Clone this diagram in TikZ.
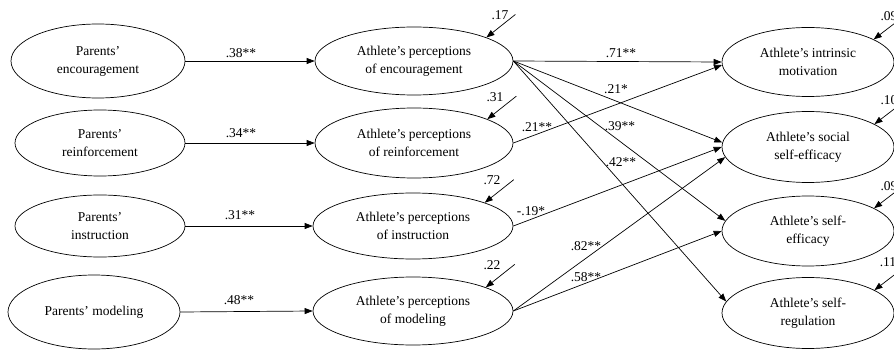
\documentclass[tikz,border=0pt]{standalone}
\usepackage{fontspec}
\setmainfont{Liberation Serif}
\usetikzlibrary{shapes.geometric,arrows.meta,calc}
\begin{document}
\begin{tikzpicture}[x=1pt,y=-1pt,
 ell/.style={draw, ellipse, inner sep=0pt, align=center, line width=0.7pt, font=\fontsize{13.5}{18}\selectfont},
 arr/.style={-{Triangle[length=8pt,width=6pt]}, line width=0.7pt},
 lab/.style={inner sep=0pt, font=\fontsize{13.5}{16}\selectfont}]
\useasboundingbox (0,0) rectangle (894,350);
\clip (0,0) rectangle (894,350);
% left column
\node[ell, minimum width=174pt, minimum height=74pt] (pe) at (98,61) {Parents’\\encouragement};
\node[ell, minimum width=170pt, minimum height=66pt] (pr) at (100,143) {Parents’\\reinforcement};
\node[ell, minimum width=170pt, minimum height=62pt] (pi) at (100,226) {Parents’\\instruction};
\node[ell, minimum width=172pt, minimum height=74pt] (pm) at (94,312) {Parents’ modeling};
% middle column
\node[ell, minimum width=198pt, minimum height=68pt] (ae) at (414,61) {Athlete’s perceptions\\of encouragement};
\node[ell, minimum width=198pt, minimum height=70pt] (re) at (414,143) {Athlete’s perceptions\\of reinforcement};
\node[ell, minimum width=200pt, minimum height=66pt] (ie) at (413,226) {Athlete’s perceptions\\of instruction};
\node[ell, minimum width=200pt, minimum height=68pt] (me) at (413,311) {Athlete’s perceptions\\of modeling};
% right column
\node[ell, minimum width=172pt, minimum height=69pt] (im) at (808,62) {Athlete’s intrinsic\\motivation};
\node[ell, minimum width=172pt, minimum height=71pt] (ss) at (808,147) {Athlete’s social\\self-efficacy};
\node[ell, minimum width=172pt, minimum height=70pt] (se) at (808,231) {Athlete’s self-\\efficacy};
\node[ell, minimum width=172pt, minimum height=71pt] (sr) at (808,313) {Athlete’s self-\\regulation};
% left -> middle
\draw[arr] (pe.east) -- (ae.west);
\draw[arr] (pr.east) -- (re.west);
\draw[arr] (pi.east) -- (ie.west);
\draw[arr] (pm.east) -- (me.west);
\node[lab] (l1) at (241,53) {.38**};
\node[lab] (l2) at (241,133) {.34**};
\node[lab] (l3) at (240,215) {.31**};
\node[lab] (l4) at (239,300) {.48**};
% middle -> right
\draw[arr] (ae.east) -- (im.west);
\draw[arr] (re.east) -- (im.182);
\draw[arr] (ae.east) -- (ss.177);
\draw[arr] (ie.east) -- (ss.180);
\draw[arr] (me.east) -- (ss.187);
\draw[arr] (ae.east) -- (se.173);
\draw[arr] (me.east) -- (se.180);
\draw[arr] (ae.east) -- (sr.172.5);
\node[lab] (l5) at (621,53) {.71**};
\node[lab] (l6) at (616,89) {.21*};
\node[lab] (l7) at (537,127) {.21**};
\node[lab] (l8) at (620,126) {.39**};
\node[lab] (l9) at (621,162) {.42**};
\node[lab] (l10) at (531,211) {-.19*};
\node[lab] (l11) at (586,246) {.82**};
\node[lab] (l12) at (586,277) {.58**};
% error terms, middle
\coordinate (eae) at ($(ae.18)+(29,-23)$);
\coordinate (ere) at ($(re.18)+(29,-23)$);
\coordinate (eie) at ($(ie.18)+(29,-23)$);
\coordinate (eme) at ($(me.18)+(29,-23)$);
\draw[arr] (eae) -- (ae.18);
\draw[arr] (ere) -- (re.18);
\draw[arr] (eie) -- (ie.18);
\draw[arr] (eme) -- (me.18);
\node[lab] (r1) at (500,15) {.17};
\node[lab] (r2) at (495,97) {.31};
\node[lab] (r3) at (492,180) {.72};
\node[lab] (r4) at (492,265) {.22};
% error terms, right
\coordinate (eim) at ($(im.19)+(30,-23)$);
\coordinate (ess) at ($(ss.19)+(30,-23)$);
\coordinate (ese) at ($(se.19)+(30,-23)$);
\coordinate (esr) at ($(sr.19)+(30,-23)$);
\draw[arr] (eim) -- (im.19);
\draw[arr] (ess) -- (ss.19);
\draw[arr] (ese) -- (se.19);
\draw[arr] (esr) -- (sr.19);
\node[lab] (r5) at (889,16) {.09};
\node[lab] (r6) at (889,100) {.10};
\node[lab] (r7) at (889,186) {.09};
\node[lab] (r8) at (888,262) {.11};
\end{tikzpicture}
\end{document}
